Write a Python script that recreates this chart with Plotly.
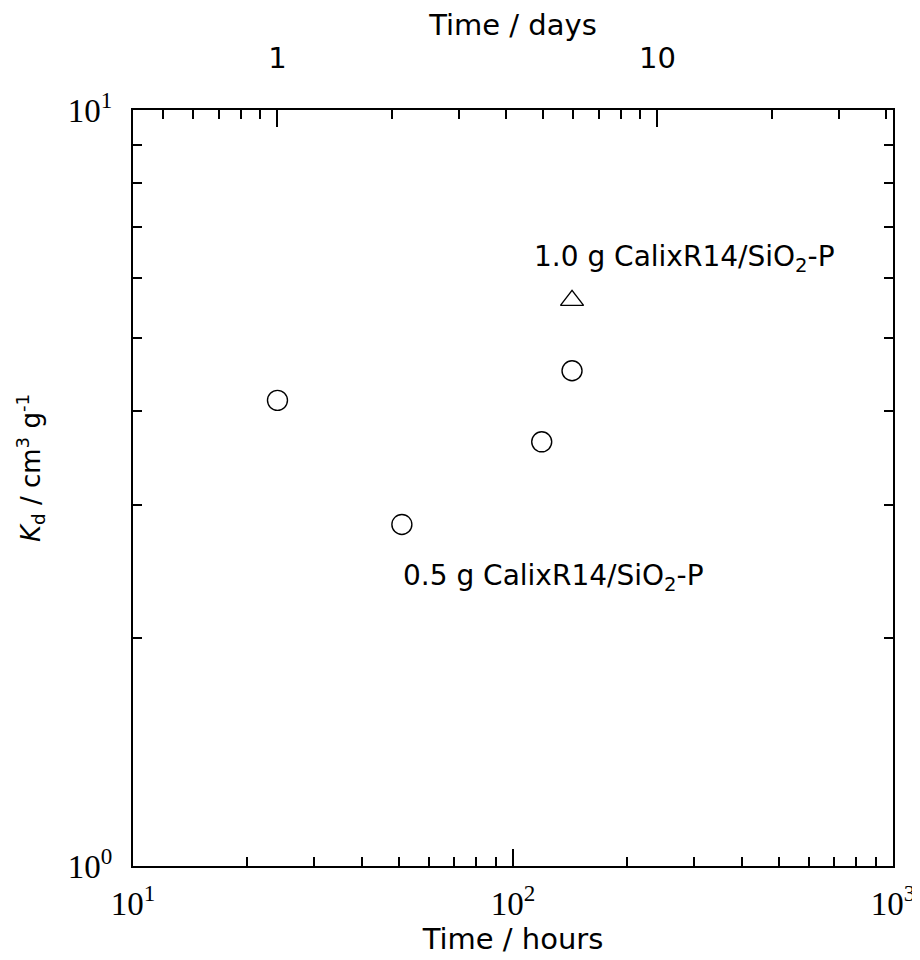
import plotly.graph_objects as go
import math

# data
time_h_05 = [24, 51, 119, 143]
kd_05 = [4.13, 2.83, 3.64, 4.52]
time_h_10 = [143]
kd_10 = [5.6]

x_ticks = [10, 100, 1000]
x_ticktext = ["10<sup>1</sup>", "10<sup>2</sup>", "10<sup>3</sup>"]
y_ticks = [1, 10]
y_ticktext = ["10<sup>0</sup>", "10<sup>1</sup>"]
day_ticks = [1, 10]
day_ticktext = ["1", "10"]

label_10 = "1.0 g CalixR14/SiO<sub>2</sub>-P"
label_05 = "0.5 g CalixR14/SiO<sub>2</sub>-P"
y_title = "<i>K</i><sub>d</sub> / cm<sup>3</sup> g<sup>-1</sup>"

SANS = "DejaVu Sans"
SERIF = "Liberation Serif"

fig = go.Figure()
fig.add_trace(go.Scatter(x=time_h_05, y=kd_05, mode="markers",
                         marker=dict(symbol="circle-open", size=20, color="black", line=dict(width=1.4)),
                         showlegend=False))
fig.add_trace(go.Scatter(x=time_h_10, y=kd_10, mode="markers",
                         marker=dict(symbol="triangle-up-open", size=20, color="black", line=dict(width=1.4)),
                         showlegend=False))
# invisible trace on days axis
fig.add_trace(go.Scatter(x=[1], y=[1], xaxis="x2", mode="markers",
                         marker=dict(opacity=0), showlegend=False, hoverinfo="skip"))

fig.add_annotation(x=math.log10(283), y=math.log10(6.37), xref="x", yref="y",
                   text=label_10, showarrow=False,
                   font=dict(family=SANS, size=28, color="black"))
fig.add_annotation(x=math.log10(128), y=math.log10(2.41), xref="x", yref="y",
                   text=label_05, showarrow=False,
                   font=dict(family=SANS, size=28, color="black"))
# y-axis title
fig.add_annotation(x=-0.135, y=0.527, xref="paper", yref="paper",
                   text=y_title, showarrow=False, textangle=-90,
                   xanchor="center", yanchor="middle",
                   font=dict(family=SANS, size=26, color="black"))

axis_common = dict(showline=True, linecolor="black", linewidth=2, ticks="inside",
                   tickcolor="black", tickwidth=2, showgrid=False, zeroline=False,
                   automargin=False)
minor_common = dict(dtick="D1", ticks="inside", ticklen=9, tickwidth=2, tickcolor="black", showgrid=False)

fig.update_layout(
    width=912, height=952,
    margin=dict(l=125, r=27, t=102, b=94),
    plot_bgcolor="white", paper_bgcolor="white",
    xaxis=dict(type="log", range=[1, 3], tickvals=x_ticks, ticktext=x_ticktext,
               ticklen=17, tickfont=dict(family=SERIF, size=33, color="black"),
               ticklabelstandoff=7,
               minor=minor_common,
               title=dict(text="Time / hours", font=dict(family=SANS, size=29, color="black"), standoff=6),
               **axis_common),
    xaxis2=dict(type="log", range=[math.log10(10 / 24), math.log10(1000 / 24)],
                overlaying="x", side="top", tickvals=day_ticks, ticktext=day_ticktext,
                ticklen=17, tickfont=dict(family=SANS, size=29, color="black"),
                ticklabelstandoff=28,
                minor=minor_common,
                title=dict(text="Time / days", font=dict(family=SANS, size=29, color="black"), standoff=20),
                **axis_common),
    yaxis=dict(type="log", range=[0, 1], tickvals=y_ticks, ticktext=y_ticktext,
               ticklen=17, tickfont=dict(family=SERIF, size=33, color="black"),
               ticklabelstandoff=12, mirror="ticks",
               minor=minor_common,
               **axis_common),
)

fig.write_html("out.html")
